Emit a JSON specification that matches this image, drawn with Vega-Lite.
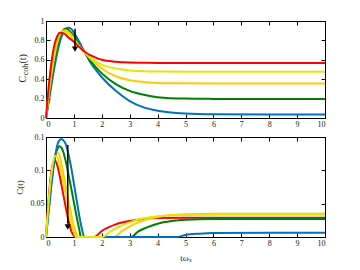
{
"$schema":"https://vega.github.io/schema/vega-lite/v6.json",
"background":"white",
"padding":{"left":14,"top":16,"right":5,"bottom":5},
"spacing":3,
"config":{"view":{"stroke":"black","strokeWidth":1},"axis":{"grid":false,"labelOverlap":false,"domainColor":"black","tickColor":"black","tickSize":-4,"labelPadding":6,"labelFont":"Liberation Serif","labelFontSize":8,"labelColor":"#222","titleFont":"Liberation Serif","titleFontSize":9,"titleFontWeight":"normal","titleColor":"#222"},"text":{"font":"Liberation Serif"}},
"datasets":{
"top":[
{"s":"blue","t":0,"v":0},{"s":"blue","t":0.1,"v":0.17},{"s":"blue","t":0.2,"v":0.35},{"s":"blue","t":0.3,"v":0.52},{"s":"blue","t":0.4,"v":0.67},{"s":"blue","t":0.5,"v":0.79},{"s":"blue","t":0.6,"v":0.87},{"s":"blue","t":0.7,"v":0.92},{"s":"blue","t":0.8,"v":0.93},{"s":"blue","t":0.9,"v":0.92},{"s":"blue","t":1.0,"v":0.88},{"s":"blue","t":1.2,"v":0.78},{"s":"blue","t":1.4,"v":0.67},{"s":"blue","t":1.6,"v":0.57},{"s":"blue","t":1.8,"v":0.49},{"s":"blue","t":2.0,"v":0.42},{"s":"blue","t":2.5,"v":0.28},{"s":"blue","t":3.0,"v":0.175},{"s":"blue","t":3.5,"v":0.11},{"s":"blue","t":4.0,"v":0.075},{"s":"blue","t":5,"v":0.046},{"s":"blue","t":6,"v":0.038},{"s":"blue","t":8,"v":0.035},{"s":"blue","t":10,"v":0.035},
{"s":"green","t":0,"v":0},{"s":"green","t":0.1,"v":0.2},{"s":"green","t":0.2,"v":0.4},{"s":"green","t":0.3,"v":0.58},{"s":"green","t":0.4,"v":0.73},{"s":"green","t":0.5,"v":0.84},{"s":"green","t":0.6,"v":0.9},{"s":"green","t":0.7,"v":0.92},{"s":"green","t":0.8,"v":0.91},{"s":"green","t":0.9,"v":0.88},{"s":"green","t":1.0,"v":0.84},{"s":"green","t":1.2,"v":0.75},{"s":"green","t":1.4,"v":0.67},{"s":"green","t":1.6,"v":0.59},{"s":"green","t":1.8,"v":0.52},{"s":"green","t":2.0,"v":0.46},{"s":"green","t":2.5,"v":0.35},{"s":"green","t":3.0,"v":0.28},{"s":"green","t":3.5,"v":0.24},{"s":"green","t":4,"v":0.215},{"s":"green","t":5,"v":0.2},{"s":"green","t":6,"v":0.197},{"s":"green","t":8,"v":0.195},{"s":"green","t":10,"v":0.195},
{"s":"gold","t":0,"v":0},{"s":"gold","t":0.1,"v":0.24},{"s":"gold","t":0.2,"v":0.45},{"s":"gold","t":0.3,"v":0.63},{"s":"gold","t":0.4,"v":0.77},{"s":"gold","t":0.5,"v":0.86},{"s":"gold","t":0.6,"v":0.9},{"s":"gold","t":0.7,"v":0.905},{"s":"gold","t":0.8,"v":0.89},{"s":"gold","t":0.9,"v":0.86},{"s":"gold","t":1.0,"v":0.82},{"s":"gold","t":1.2,"v":0.74},{"s":"gold","t":1.4,"v":0.67},{"s":"gold","t":1.6,"v":0.61},{"s":"gold","t":1.8,"v":0.56},{"s":"gold","t":2.0,"v":0.51},{"s":"gold","t":2.5,"v":0.43},{"s":"gold","t":3.0,"v":0.39},{"s":"gold","t":3.5,"v":0.37},{"s":"gold","t":4,"v":0.362},{"s":"gold","t":5,"v":0.357},{"s":"gold","t":6,"v":0.356},{"s":"gold","t":8,"v":0.356},{"s":"gold","t":10,"v":0.356},
{"s":"yellow","t":0,"v":0},{"s":"yellow","t":0.1,"v":0.28},{"s":"yellow","t":0.2,"v":0.51},{"s":"yellow","t":0.3,"v":0.68},{"s":"yellow","t":0.4,"v":0.8},{"s":"yellow","t":0.5,"v":0.87},{"s":"yellow","t":0.6,"v":0.89},{"s":"yellow","t":0.7,"v":0.885},{"s":"yellow","t":0.8,"v":0.87},{"s":"yellow","t":0.9,"v":0.84},{"s":"yellow","t":1.0,"v":0.8},{"s":"yellow","t":1.2,"v":0.73},{"s":"yellow","t":1.4,"v":0.67},{"s":"yellow","t":1.6,"v":0.62},{"s":"yellow","t":1.8,"v":0.58},{"s":"yellow","t":2.0,"v":0.55},{"s":"yellow","t":2.5,"v":0.51},{"s":"yellow","t":3.0,"v":0.49},{"s":"yellow","t":3.5,"v":0.483},{"s":"yellow","t":4,"v":0.48},{"s":"yellow","t":5,"v":0.478},{"s":"yellow","t":10,"v":0.478},
{"s":"red","t":0,"v":0},{"s":"red","t":0.1,"v":0.33},{"s":"red","t":0.2,"v":0.58},{"s":"red","t":0.3,"v":0.75},{"s":"red","t":0.4,"v":0.84},{"s":"red","t":0.5,"v":0.88},{"s":"red","t":0.6,"v":0.875},{"s":"red","t":0.7,"v":0.86},{"s":"red","t":0.8,"v":0.83},{"s":"red","t":0.9,"v":0.81},{"s":"red","t":1.0,"v":0.785},{"s":"red","t":1.2,"v":0.73},{"s":"red","t":1.4,"v":0.68},{"s":"red","t":1.6,"v":0.645},{"s":"red","t":1.8,"v":0.62},{"s":"red","t":2.0,"v":0.6},{"s":"red","t":2.5,"v":0.58},{"s":"red","t":3.0,"v":0.572},{"s":"red","t":3.5,"v":0.57},{"s":"red","t":4,"v":0.568},{"s":"red","t":10,"v":0.567}
],
"bottom":[
{"s":"red","t":0,"v":0},{"s":"red","t":0.1,"v":0.06},{"s":"red","t":0.2,"v":0.1},{"s":"red","t":0.3,"v":0.115},{"s":"red","t":0.4,"v":0.108},{"s":"red","t":0.5,"v":0.09},{"s":"red","t":0.6,"v":0.068},{"s":"red","t":0.7,"v":0.046},{"s":"red","t":0.8,"v":0.026},{"s":"red","t":0.9,"v":0.01},{"s":"red","t":1.0,"v":0.002},{"s":"red","t":1.05,"v":0},{"s":"red","t":1.73,"v":0},{"s":"red","t":2.0,"v":0.009},{"s":"red","t":2.5,"v":0.019},{"s":"red","t":3,"v":0.024},{"s":"red","t":3.5,"v":0.027},{"s":"red","t":4,"v":0.0285},{"s":"red","t":5,"v":0.029},{"s":"red","t":6,"v":0.029},{"s":"red","t":10,"v":0.029},
{"s":"green","t":0,"v":0},{"s":"green","t":0.1,"v":0.045},{"s":"green","t":0.2,"v":0.085},{"s":"green","t":0.3,"v":0.114},{"s":"green","t":0.4,"v":0.131},{"s":"green","t":0.48,"v":0.136},{"s":"green","t":0.55,"v":0.134},{"s":"green","t":0.6,"v":0.13},{"s":"green","t":0.7,"v":0.115},{"s":"green","t":0.8,"v":0.095},{"s":"green","t":0.9,"v":0.074},{"s":"green","t":1.0,"v":0.052},{"s":"green","t":1.1,"v":0.03},{"s":"green","t":1.2,"v":0.01},{"s":"green","t":1.25,"v":0},{"s":"green","t":3.05,"v":0},{"s":"green","t":3.3,"v":0.008},{"s":"green","t":3.6,"v":0.014},{"s":"green","t":4,"v":0.02},{"s":"green","t":4.5,"v":0.024},{"s":"green","t":5,"v":0.026},{"s":"green","t":6,"v":0.027},{"s":"green","t":10,"v":0.027},
{"s":"gold","t":0,"v":0},{"s":"gold","t":0.1,"v":0.05},{"s":"gold","t":0.2,"v":0.09},{"s":"gold","t":0.3,"v":0.118},{"s":"gold","t":0.38,"v":0.128},{"s":"gold","t":0.45,"v":0.126},{"s":"gold","t":0.5,"v":0.12},{"s":"gold","t":0.6,"v":0.1},{"s":"gold","t":0.7,"v":0.078},{"s":"gold","t":0.8,"v":0.056},{"s":"gold","t":0.9,"v":0.035},{"s":"gold","t":1.0,"v":0.016},{"s":"gold","t":1.1,"v":0.004},{"s":"gold","t":1.15,"v":0},{"s":"gold","t":2.45,"v":0},{"s":"gold","t":2.7,"v":0.008},{"s":"gold","t":3,"v":0.016},{"s":"gold","t":3.5,"v":0.025},{"s":"gold","t":4,"v":0.03},{"s":"gold","t":5,"v":0.034},{"s":"gold","t":6,"v":0.035},{"s":"gold","t":10,"v":0.035},
{"s":"blue","t":0,"v":0},{"s":"blue","t":0.1,"v":0.04},{"s":"blue","t":0.2,"v":0.08},{"s":"blue","t":0.3,"v":0.113},{"s":"blue","t":0.4,"v":0.137},{"s":"blue","t":0.5,"v":0.146},{"s":"blue","t":0.55,"v":0.147},{"s":"blue","t":0.6,"v":0.146},{"s":"blue","t":0.7,"v":0.14},{"s":"blue","t":0.8,"v":0.125},{"s":"blue","t":0.9,"v":0.105},{"s":"blue","t":1.0,"v":0.08},{"s":"blue","t":1.1,"v":0.055},{"s":"blue","t":1.2,"v":0.03},{"s":"blue","t":1.3,"v":0.01},{"s":"blue","t":1.37,"v":0},{"s":"blue","t":4.7,"v":0},{"s":"blue","t":5,"v":0.003},{"s":"blue","t":5.5,"v":0.005},{"s":"blue","t":6,"v":0.006},{"s":"blue","t":8,"v":0.0065},{"s":"blue","t":10,"v":0.0065},
{"s":"yellow","t":0,"v":0},{"s":"yellow","t":0.1,"v":0.055},{"s":"yellow","t":0.2,"v":0.097},{"s":"yellow","t":0.3,"v":0.12},{"s":"yellow","t":0.35,"v":0.122},{"s":"yellow","t":0.4,"v":0.12},{"s":"yellow","t":0.5,"v":0.107},{"s":"yellow","t":0.6,"v":0.087},{"s":"yellow","t":0.7,"v":0.065},{"s":"yellow","t":0.8,"v":0.043},{"s":"yellow","t":0.9,"v":0.022},{"s":"yellow","t":1.0,"v":0.007},{"s":"yellow","t":1.08,"v":0},{"s":"yellow","t":2.0,"v":0},{"s":"yellow","t":2.3,"v":0.008},{"s":"yellow","t":2.6,"v":0.015},{"s":"yellow","t":3,"v":0.022},{"s":"yellow","t":3.5,"v":0.028},{"s":"yellow","t":4,"v":0.031},{"s":"yellow","t":5,"v":0.033},{"s":"yellow","t":6,"v":0.0335},{"s":"yellow","t":10,"v":0.0335}
],
"one":[{}]},
"vconcat":[
{"width":279,"height":97,
"layer":[
{"data":{"name":"top"},"mark":{"type":"line","strokeWidth":2,"interpolate":"monotone"},
"encoding":{"x":{"field":"t","type":"quantitative","scale":{"domain":[0,10],"nice":false},"axis":{"values":[0,1,2,3,4,5,6,7,8,9,10],"format":"d","title":null}},
"y":{"field":"v","type":"quantitative","scale":{"domain":[0,1],"nice":false},"axis":{"values":[0,0.2,0.4,0.6,0.8,1],"format":"~g","title":null}},
"color":{"field":"s","type":"nominal","scale":{"domain":["blue","green","gold","yellow","red"],"range":["#0072BD","#008000","#FFCC00","#E6E600","#FF0000"]},"legend":null}}},
{"data":{"name":"one"},"mark":{"type":"rule","color":"black","strokeWidth":1.5},"encoding":{"x":{"datum":1.04,"type":"quantitative","axis":null},"y":{"datum":0.92,"type":"quantitative","axis":null},"y2":{"datum":0.72}}},
{"data":{"name":"one"},"mark":{"type":"point","shape":"triangle-down","filled":true,"color":"black","opacity":1,"size":40},"encoding":{"x":{"datum":1.04,"type":"quantitative","axis":null},"y":{"datum":0.71,"type":"quantitative","axis":null}}},
{"data":{"name":"one"},"mark":{"type":"text","angle":270,"fontSize":10,"color":"#222","align":"center","baseline":"middle"},"encoding":{"x":{"datum":-0.82,"type":"quantitative","axis":null},"y":{"datum":0.4,"type":"quantitative","axis":null},"text":{"value":"C"}}},
{"data":{"name":"one"},"mark":{"type":"text","angle":270,"fontSize":8,"color":"#222","align":"center","baseline":"middle"},"encoding":{"x":{"datum":-0.7,"type":"quantitative","axis":null},"y":{"datum":0.5,"type":"quantitative","axis":null},"text":{"value":"coh"}}},
{"data":{"name":"one"},"mark":{"type":"text","angle":270,"fontSize":10,"color":"#222","align":"center","baseline":"middle"},"encoding":{"x":{"datum":-0.82,"type":"quantitative","axis":null},"y":{"datum":0.61,"type":"quantitative","axis":null},"text":{"value":"(t)"}}},
{"data":{"name":"one"},"mark":{"type":"point","opacity":0},"encoding":{"x":{"datum":0,"type":"quantitative","axis":{"orient":"top","labels":false,"values":[0,1,2,3,4,5,6,7,8,9,10],"title":null}},"y":{"datum":0,"type":"quantitative","axis":{"orient":"right","labels":false,"values":[0,0.2,0.4,0.6,0.8,1],"title":null}}}}
],
"resolve":{"axis":{"x":"independent","y":"independent"}}},
{"width":279,"height":100,
"layer":[
{"data":{"name":"bottom"},"mark":{"type":"line","strokeWidth":2,"interpolate":"monotone"},
"encoding":{"x":{"field":"t","type":"quantitative","scale":{"domain":[0,10],"nice":false},"axis":{"values":[0,1,2,3,4,5,6,7,8,9,10],"format":"d","title":"tωₛ","titlePadding":6}},
"y":{"field":"v","type":"quantitative","scale":{"domain":[0,0.15],"nice":false},"axis":{"values":[0,0.05,0.1,0.15],"format":"~g","title":"C(t)","titlePadding":6}},
"color":{"field":"s","type":"nominal","scale":{"domain":["blue","green","gold","yellow","red"],"range":["#0072BD","#008000","#FFCC00","#E6E600","#FF0000"]},"legend":null}}},
{"data":{"name":"one"},"mark":{"type":"rule","color":"black","strokeWidth":1.5},"encoding":{"x":{"datum":0.78,"type":"quantitative","axis":null},"y":{"datum":0.138,"type":"quantitative","axis":null},"y2":{"datum":0.02}}},
{"data":{"name":"one"},"mark":{"type":"point","shape":"triangle-down","filled":true,"color":"black","opacity":1,"size":40},"encoding":{"x":{"datum":0.78,"type":"quantitative","axis":null},"y":{"datum":0.015,"type":"quantitative","axis":null}}},
{"data":{"name":"one"},"mark":{"type":"point","opacity":0},"encoding":{"x":{"datum":0,"type":"quantitative","axis":{"orient":"top","labels":false,"values":[0,1,2,3,4,5,6,7,8,9,10],"title":null}},"y":{"datum":0,"type":"quantitative","axis":{"orient":"right","labels":false,"values":[0,0.05,0.1,0.15],"title":null}}}}
],
"resolve":{"axis":{"x":"independent","y":"independent"}}}
]
}
